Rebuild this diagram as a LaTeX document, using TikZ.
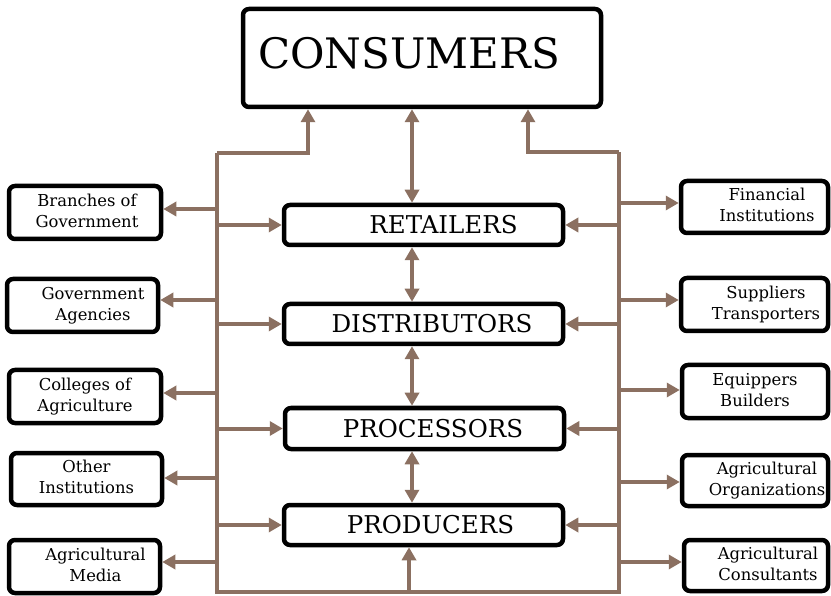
\documentclass[tikz,border=0pt]{standalone}
\usepackage{fontspec}
\setmainfont{DejaVu Serif}
\usetikzlibrary{arrows.meta}
\definecolor{brn}{RGB}{139,112,97}
\newcommand\twol[3][0pt]{\hspace*{#1}\begin{tabular}{@{}c@{}}#2\\#3\end{tabular}}
\tikzset{
  box/.style={draw=black, line width=4.5pt, rounded corners=6pt, fill=white, inner sep=0pt},
  side/.style={box, font=\fontsize{16.4}{21}\selectfont},
  mid/.style={box, minimum width=279pt, minimum height=40pt, font=\fontsize{24.5}{28}\selectfont},
  link/.style={draw=brn, line width=4pt},
  arr/.style={link, -{Triangle[length=13pt,width=14pt]}},
  darr/.style={link, {Triangle[length=13pt,width=14pt]}-{Triangle[length=13pt,width=14pt]}},
}
\begin{document}
\begin{tikzpicture}[x=1pt,y=-1pt]
\useasboundingbox (0,0) rectangle (831,596);
% main boxes
\node[box, minimum width=358pt, minimum height=98pt, font=\fontsize{42}{50}\selectfont] (cons) at (422,58) {CONSUMERS\rule[-10pt]{0pt}{0pt}\hspace*{26pt}};
\node[mid] (ret) at (423.5,225) {\hspace*{40pt}RETAILERS};
\node[mid] (dist) at (423.5,324) {\hspace*{17pt}DISTRIBUTORS};
\node[mid, minimum height=41pt] (proc) at (424.5,428.5) {\hspace*{17pt}PROCESSORS};
\node[mid] (prod) at (423.5,525) {\hspace*{14pt}PRODUCERS};
% left boxes
\node[side, minimum width=152pt, minimum height=53pt] (bog) at (85,212.5) {\twol[4pt]{Branches of}{Government}};
\node[side, minimum width=151pt, minimum height=53pt] (ga) at (82.5,305.5) {\twol[21pt]{Government}{Agencies}};
\node[side, minimum width=152pt, minimum height=53pt] (coa) at (85,396.5) {\twol{Colleges of}{Agriculture}};
\node[side, minimum width=151pt, minimum height=52pt] (oi) at (86.5,479) {\twol{Other}{Institutions}};
\node[side, minimum width=151pt, minimum height=53pt] (am) at (84.5,566.5) {\twol[22pt]{Agricultural}{Media}};
% right boxes
\node[side, minimum width=147pt, minimum height=52pt] (fi) at (754.5,207) {\twol[25pt]{Financial}{Institutions}};
\node[side, minimum width=147pt, minimum height=53pt] (st) at (754.5,304.5) {\twol[23pt]{Suppliers}{Transporters}};
\node[side, minimum width=146pt, minimum height=53pt] (eb) at (755,391.5) {\twol{Equippers}{Builders}};
\node[side, minimum width=146pt, minimum height=51pt] (ao) at (755,480.5) {\twol[24pt]{Agricultural}{Organizations}};
\node[side, minimum width=144pt, minimum height=51pt] (ac) at (756,565.5) {\twol[24pt]{Agricultural}{Consultants}};
% trunk coordinates
\coordinate (LT) at (217,153);
\coordinate (LB) at (217,592);
\coordinate (RT) at (619,152);
\coordinate (RB) at (619,592);
\coordinate (BC) at (409,592);
\coordinate (CL) at (308,0);
\coordinate (CC) at (412,0);
\coordinate (CR) at (528,0);
% trunks
\draw[link] (LT) -- (LB) -- (RB) -- (RT);
\draw[arr] (LT) -- (LT -| CL) -- (cons.south -| CL);
\draw[arr] (RT) -- (RT -| CR) -- (cons.south -| CR);
% central chain
\draw[darr] (cons.south -| CC) -- (ret.north -| CC);
\draw[darr] (ret.south -| CC) -- (dist.north -| CC);
\draw[darr] (dist.south -| CC) -- (proc.north -| CC);
\draw[darr] (proc.south -| CC) -- (prod.north -| CC);
\draw[arr] (BC) -- (prod.south -| BC);
% trunks into central boxes
\foreach \n in {ret,dist,proc,prod}{
  \draw[arr] (LT |- \n.west) -- (\n.west);
  \draw[arr] (RT |- \n.east) -- (\n.east);
}
% trunks out to side boxes
\draw[arr] (LT |- 0,209) -- (bog.east |- 0,209);
\draw[arr] (LT |- 0,300) -- (ga.east |- 0,300);
\draw[arr] (LT |- 0,393) -- (coa.east |- 0,393);
\draw[arr] (LT |- 0,478) -- (oi.east |- 0,478);
\draw[arr] (LT |- 0,562) -- (am.east |- 0,562);
\draw[arr] (RT |- 0,203) -- (fi.west |- 0,203);
\draw[arr] (RT |- 0,300) -- (st.west |- 0,300);
\draw[arr] (RT |- 0,390) -- (eb.west |- 0,390);
\draw[arr] (RT |- 0,482) -- (ao.west |- 0,482);
\draw[arr] (RT |- 0,562) -- (ac.west |- 0,562);
\end{tikzpicture}
\end{document}
